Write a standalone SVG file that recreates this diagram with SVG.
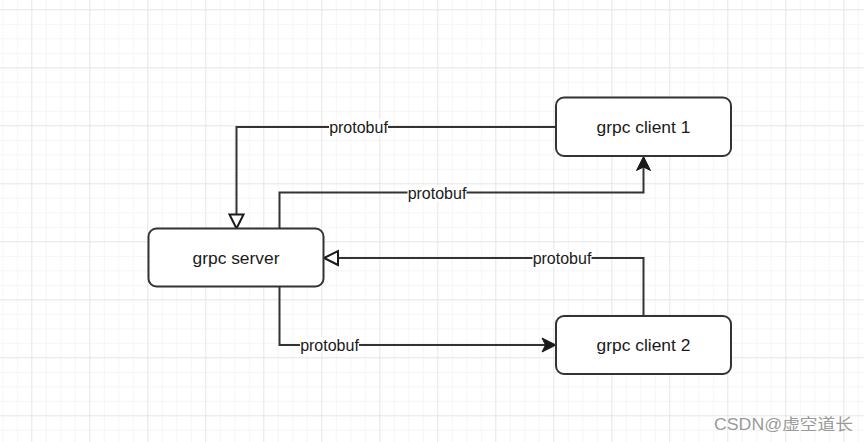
<svg xmlns="http://www.w3.org/2000/svg" width="864" height="442" viewBox="0 0 864 442">
  <defs>
    <pattern id="minor" x="2.3" y="9.3" width="14.5" height="14.5" patternUnits="userSpaceOnUse">
      <path d="M0,0 H14.5 M0,0 V14.5" fill="none" stroke="#ececec" stroke-width="1"/>
    </pattern>
    <pattern id="major" x="31.3" y="9.3" width="58" height="58" patternUnits="userSpaceOnUse">
      <path d="M0,0 H58 M0,0 V58" fill="none" stroke="#d9d9d9" stroke-width="1"/>
    </pattern>
    <marker id="filled" markerUnits="userSpaceOnUse" markerWidth="16" markerHeight="16" refX="7" refY="7" orient="auto" overflow="visible">
      <path d="M0,0 L14,7 L0,14 L3.5,7 Z" fill="#1a1a1a" stroke="#1a1a1a" stroke-width="1" stroke-linejoin="miter"/>
    </marker>
    <marker id="hollow" markerUnits="userSpaceOnUse" markerWidth="16" markerHeight="16" refX="0" refY="7" orient="auto" overflow="visible">
      <path d="M0,0 L14,7 L0,14 Z" fill="#ffffff" stroke="#1a1a1a" stroke-width="2" stroke-linejoin="miter"/>
    </marker>
  </defs>
  <style>
    .node rect { fill: #ffffff; stroke: #333333; stroke-width: 2; }
    .node text { font-family: "Liberation Sans", Arial, sans-serif; font-size: 17.4px; fill: #1a1a1a; text-anchor: middle; }
    .edge { fill: none; stroke: #333333; stroke-width: 2; }
    .lbl rect { fill: #ffffff; }
    .lbl text { font-family: "Liberation Sans", Arial, sans-serif; font-size: 16px; fill: #1a1a1a; text-anchor: middle; }
    .wm { font-family: "Liberation Sans", Arial, "Noto Sans CJK SC", sans-serif; font-size: 16px; fill: #9a9a9a; }
  </style>
  <rect x="0" y="0" width="864" height="442" fill="#ffffff"/>
  <rect x="0" y="0" width="864" height="442" fill="url(#minor)"/>
  <rect x="0" y="0" width="864" height="442" fill="url(#major)"/>

  <g id="connectors">
    <path class="edge" d="M556,127 H236.5 V214.5" marker-end="url(#hollow)"/>
    <path class="edge" d="M279.5,228.5 V192.5 H643.5 V163.5" marker-end="url(#filled)"/>
    <path class="edge" d="M643.5,316 V258 H338" marker-end="url(#hollow)"/>
    <path class="edge" d="M279.5,286.5 V345 H549" marker-end="url(#filled)"/>
    <g class="lbl">
      <rect x="329" y="119" width="59" height="16"/>
      <text x="358.5" y="132.5">protobuf</text>
      <rect x="407.5" y="185" width="59" height="16"/>
      <text x="437" y="198.5">protobuf</text>
      <rect x="532.5" y="250" width="59" height="16"/>
      <text x="562" y="263.5">protobuf</text>
      <rect x="300" y="337" width="59" height="16"/>
      <text x="329.5" y="350.5">protobuf</text>
    </g>
  </g>

  <g id="server" class="node">
    <rect x="148.5" y="228.5" width="175" height="58" rx="8" ry="8"/>
    <text x="236" y="263.5">grpc server</text>
  </g>
  <g id="client1" class="node">
    <rect x="556" y="97.5" width="175" height="58.5" rx="8" ry="8"/>
    <text x="643.5" y="133">grpc client 1</text>
  </g>
  <g id="client2" class="node">
    <rect x="556" y="316" width="175" height="58" rx="8" ry="8"/>
    <text x="643.5" y="351">grpc client 2</text>
  </g>

  <text class="wm" x="714" y="429.5" textLength="139" lengthAdjust="spacingAndGlyphs">CSDN@虚空道长</text>
</svg>
